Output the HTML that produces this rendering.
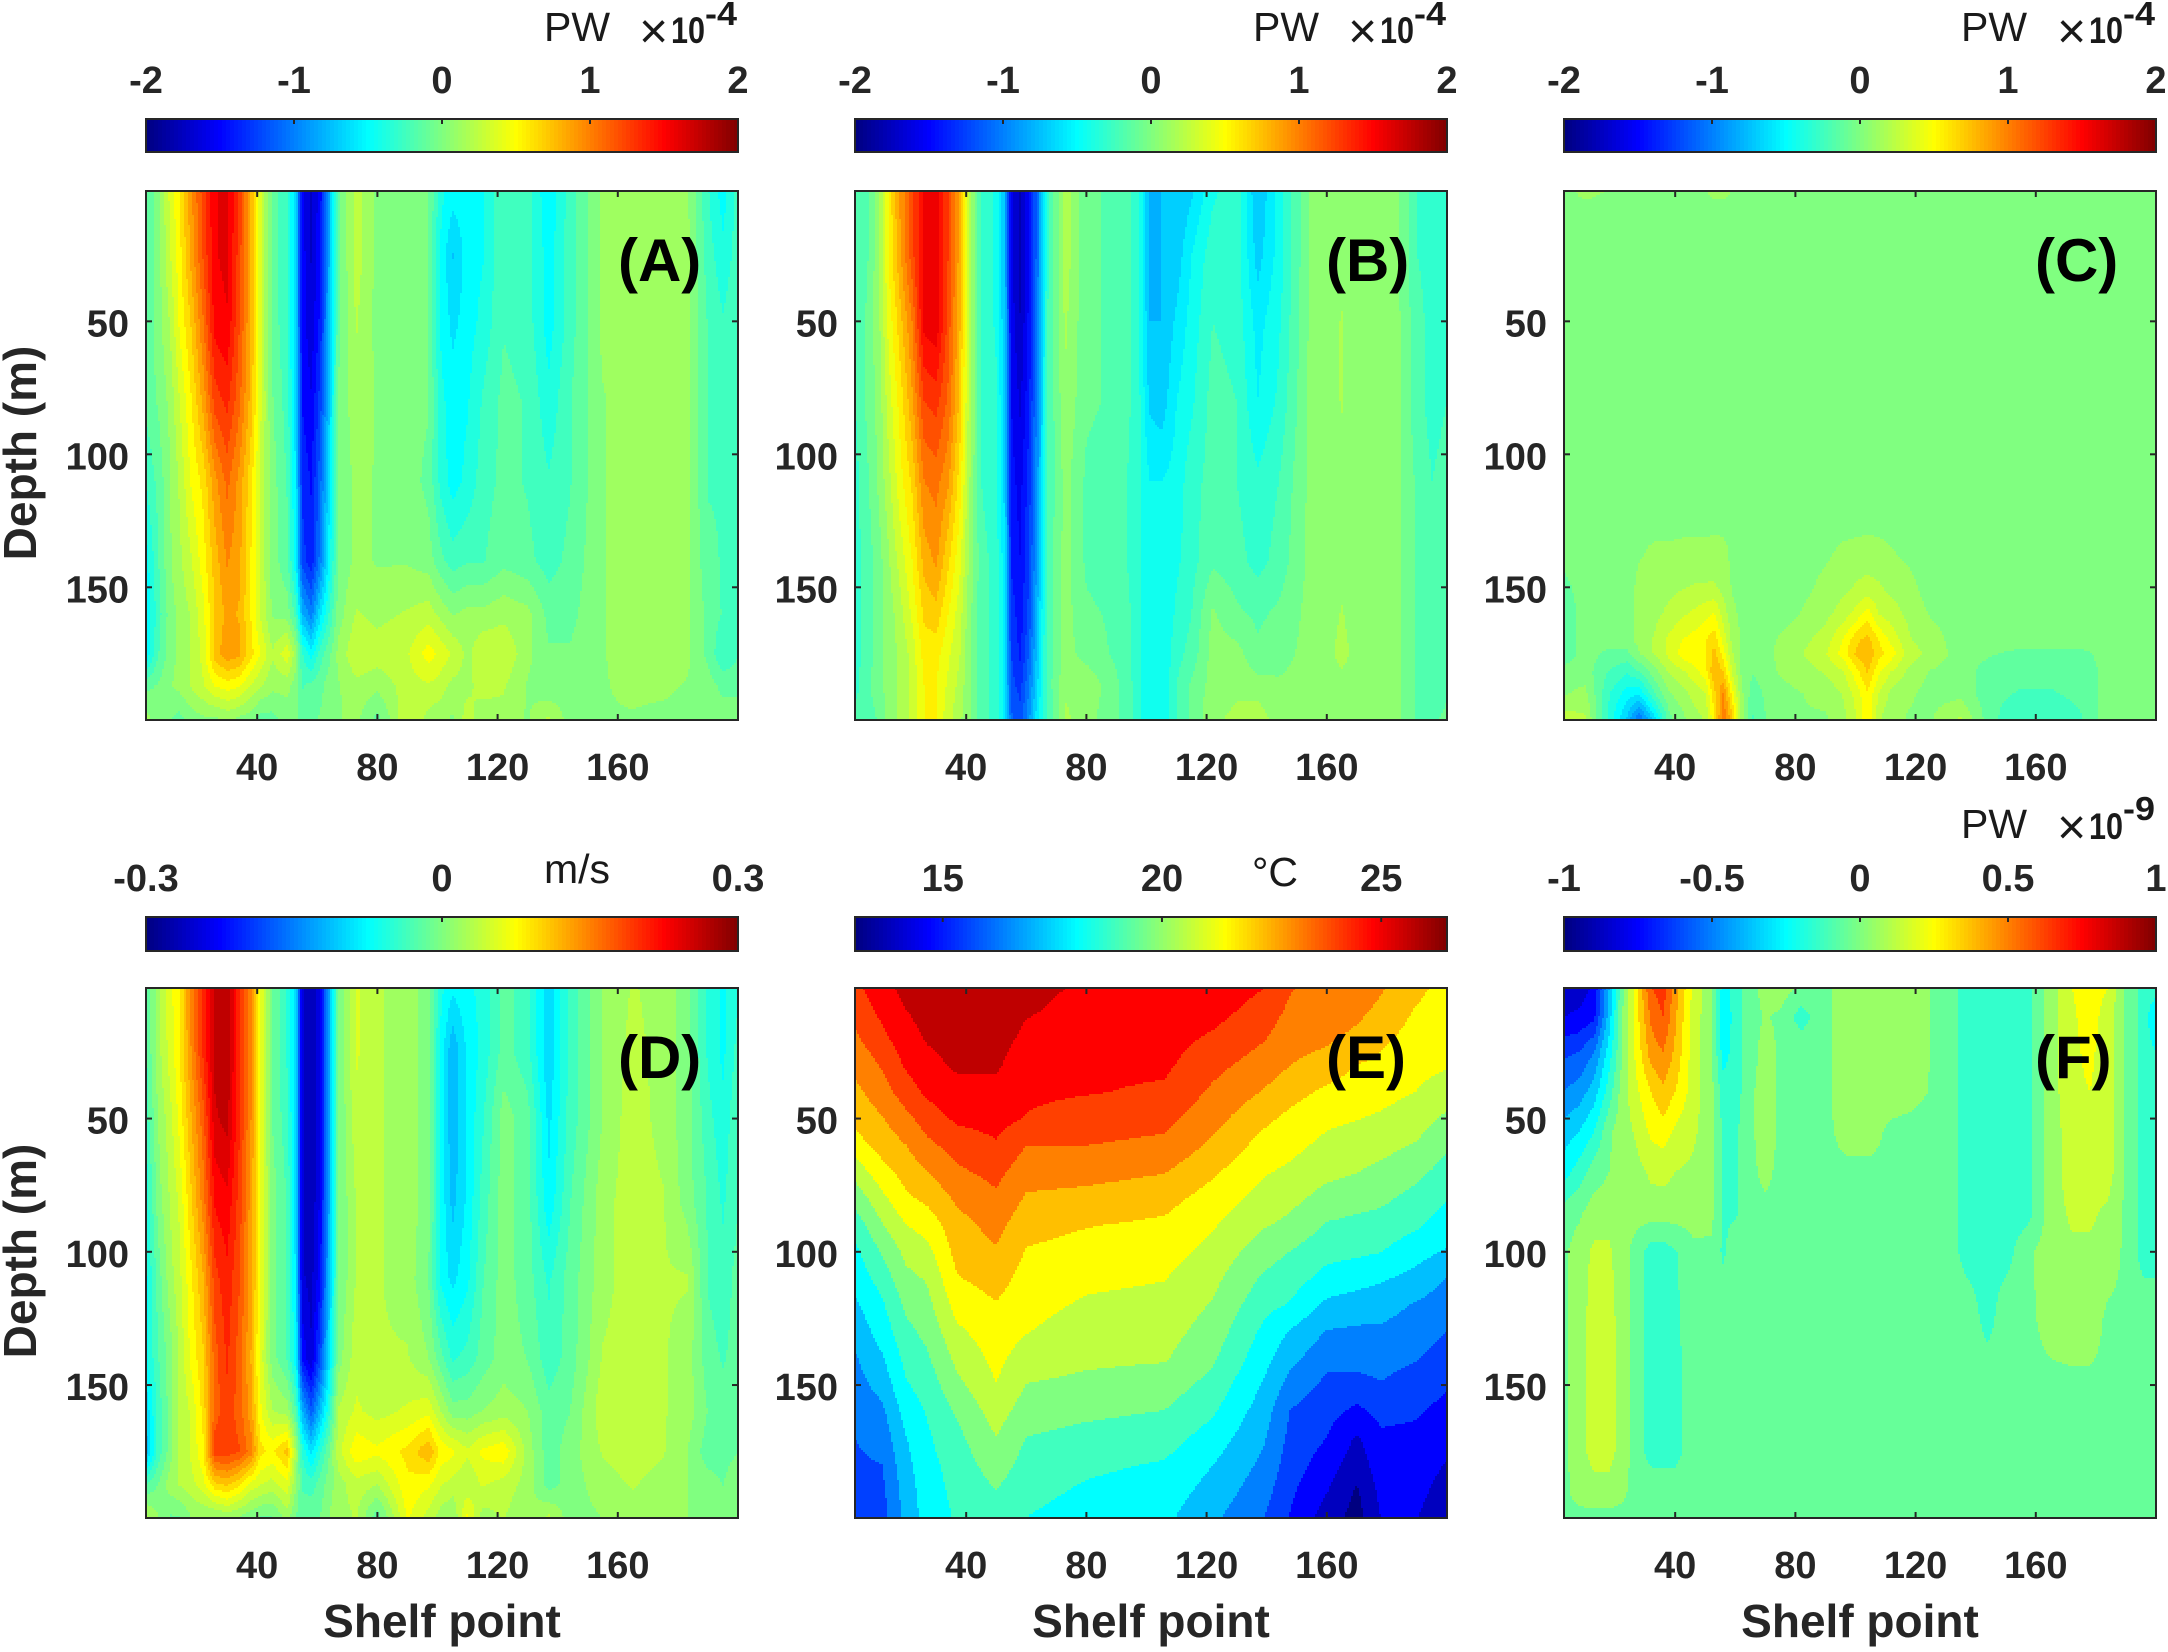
<!DOCTYPE html>
<html lang="en">
<head>
<meta charset="utf-8">
<title>Shelf point depth sections</title>
<style>
html,body{margin:0;padding:0;background:#fff;}
svg{display:block;font-family:"Liberation Sans",Arial,sans-serif;}
.tick-label{font-size:38px;font-weight:700;fill:#262626;}
.axis-title{font-size:46px;font-weight:700;fill:#262626;}
.panel-tag{font-size:60px;font-weight:700;fill:#000;}
.unit{font-size:41px;fill:#1a1a1a;}
.times{font-size:50px;fill:#1a1a1a;}
.exp10{font-size:37px;font-weight:700;fill:#1a1a1a;}
.expsup{font-size:33px;font-weight:700;fill:#1a1a1a;}
</style>
</head>
<body>
<svg id="figure" xmlns="http://www.w3.org/2000/svg" width="2168" height="1652" viewBox="0 0 2168 1652">
  <rect x="0" y="0" width="2168" height="1652" fill="#fff"/>
  <g id="plots"></g>

  <text class="unit" x="544" y="41">PW</text>
  <text class="times" x="639" y="48">×</text>
  <text class="exp10" x="671" y="43" textLength="34" lengthAdjust="spacingAndGlyphs">10</text>
  <text class="expsup" x="705" y="25" textLength="32" lengthAdjust="spacingAndGlyphs">-4</text>

  <text class="unit" x="1253" y="41">PW</text>
  <text class="times" x="1348" y="48">×</text>
  <text class="exp10" x="1380" y="43" textLength="34" lengthAdjust="spacingAndGlyphs">10</text>
  <text class="expsup" x="1414" y="25" textLength="32" lengthAdjust="spacingAndGlyphs">-4</text>

  <text class="unit" x="1961" y="41">PW</text>
  <text class="times" x="2057" y="48">×</text>
  <text class="exp10" x="2089" y="43" textLength="34" lengthAdjust="spacingAndGlyphs">10</text>
  <text class="expsup" x="2123" y="25" textLength="32" lengthAdjust="spacingAndGlyphs">-4</text>

  <text class="unit" x="544" y="883">m/s</text>
  <text class="unit" x="1252" y="886">°C</text>

  <text class="unit" x="1961" y="838">PW</text>
  <text class="times" x="2057" y="844">×</text>
  <text class="exp10" x="2089" y="839" textLength="34" lengthAdjust="spacingAndGlyphs">10</text>
  <text class="expsup" x="2123" y="820" textLength="32" lengthAdjust="spacingAndGlyphs">-9</text>

  <text class="panel-tag" x="618" y="281">(A)</text>
  <text class="panel-tag" x="1326" y="281">(B)</text>
  <text class="panel-tag" x="2035" y="281">(C)</text>
  <text class="panel-tag" x="618" y="1078">(D)</text>
  <text class="panel-tag" x="1326" y="1078">(E)</text>
  <text class="panel-tag" x="2035" y="1078">(F)</text>

  <text class="axis-title" transform="translate(36 453) rotate(-90)" text-anchor="middle">Depth (m)</text>
  <text class="axis-title" transform="translate(36 1251) rotate(-90)" text-anchor="middle">Depth (m)</text>
  <text class="axis-title" x="442" y="1637" text-anchor="middle">Shelf point</text>
  <text class="axis-title" x="1151" y="1637" text-anchor="middle">Shelf point</text>
  <text class="axis-title" x="1860" y="1637" text-anchor="middle">Shelf point</text>
</svg>
<script>
const shelfTicks = [40, 80, 120, 160];
const depthTicks = [50, 100, 150];
const barTicksPW = [-2, -1, 0, 1, 2];
const barTicksSpeed = [-0.3, 0, 0.3];
const barTicksTemp = [15, 20, 25];
const barTicksTiny = [-1, -0.5, 0, 0.5, 1];

const shelfPoints = [3,7,11,14,18,22,26,30,34,38,41,45,50,53,55,58,61,64,67,73,80,90,97,101,105,110,115,122,130,137,144,155,165,175,183,190,195,200];
const depthLevels = [1,25,50,80,110,140,160,175,187,199];

const valuesA = [
[-.2,0,.35,.55,.9,1.25,1.55,1.6,1.3,.8,.35,-.1,-.3,-.7,-1.55,-1.7,-1.5,-.8,-.1,.25,.02,0,-.05,-.4,-.5,-.5,-.45,-.2,-.25,-.55,-.25,.1,.15,.15,.1,-.3,-.5,-.25],
[-.15,0,.3,.5,.85,1.2,1.55,1.6,1.25,.8,.35,-.1,-.3,-.7,-1.5,-1.7,-1.45,-.8,-.1,.25,.02,0,-.05,-.45,-.7,-.5,-.45,-.2,-.25,-.5,-.25,.1,.15,.15,.1,-.25,-.4,-.25],
[-.15,0,.2,.45,.7,1.05,1.5,1.55,1.2,.8,.35,-.1,-.3,-.7,-1.5,-1.65,-1.4,-.75,-.1,.2,.02,0,-.05,-.45,-.6,-.5,-.4,-.2,-.25,-.5,-.25,.1,.15,.15,.1,-.2,-.3,-.2],
[-.15,-.05,.1,.3,.55,.85,1.25,1.35,1.1,.75,.35,-.05,-.25,-.65,-1.45,-1.55,-1.25,-.7,-.05,.15,.05,0,-.05,-.4,-.5,-.45,-.3,-.15,-.2,-.4,-.2,.05,.15,.15,.1,-.2,-.25,-.2],
[-.3,-.15,.05,.2,.45,.6,.9,1.1,.9,.6,.3,0,-.2,-.6,-1.35,-1.45,-1.1,-.6,-.05,.1,.05,0,-.1,-.35,-.5,-.4,-.25,-.15,-.2,-.3,-.2,.05,.15,.15,.1,-.2,-.2,-.2],
[-.5,-.2,.05,.15,.3,.5,.75,.95,.85,.55,.3,0,-.15,-.55,-1.25,-1.4,-1.0,-.5,-.05,.1,.05,.05,0,-.15,-.25,-.2,-.2,-.1,-.15,-.25,-.15,.05,.15,.15,.1,-.15,-.2,-.2],
[-.55,-.25,0,.1,.2,.4,.7,.85,.8,.55,.3,.05,0,-.25,-.8,-1.0,-.6,-.3,0,.2,.15,.2,.25,.15,.05,.1,.1,.15,.1,-.1,-.1,.05,.15,.15,.1,-.1,-.2,-.2],
[-.55,-.2,0,.1,.2,.35,.75,.9,.85,.6,.45,.2,.4,.1,-.3,-.5,-.25,-.1,.1,.3,.25,.3,.5,.4,.3,.15,.3,.3,.1,-.05,-.05,.05,.15,.15,.1,-.1,-.3,-.2],
[-.1,-.05,.05,.1,.2,.3,.45,.5,.45,.3,.2,.1,.1,0,-.2,-.15,-.1,0,.05,.15,.1,.25,.3,.25,.15,.15,.25,.2,.05,-.05,0,.05,.1,.1,.05,0,-.1,-.1],
[.1,0,-.05,-.1,0,.05,.05,.1,.05,0,-.1,-.1,0,-.05,-.1,-.1,-.05,0,.05,.1,-.1,.3,.15,.1,.05,.25,.1,.15,.05,.2,0,.05,.05,.02,0,0,0,0]
];

const valuesB = [
[-.25,-.15,.1,.5,.9,1.2,1.55,1.6,1.25,.8,.2,-.25,-.4,-.8,-1.6,-1.8,-1.5,-1,-.3,.2,-.1,-.15,-.3,-.8,-.75,-.75,-.65,-.4,-.3,-.75,-.45,.05,.05,.05,.05,-.25,-.3,-.25],
[-.25,-.15,.1,.5,.85,1.2,1.55,1.6,1.25,.8,.2,-.25,-.4,-.8,-1.6,-1.8,-1.5,-1,-.3,.2,-.1,-.15,-.3,-.8,-.75,-.7,-.5,-.3,-.3,-.68,-.45,.05,.1,.05,.05,-.25,-.3,-.25],
[-.25,-.1,.1,.4,.7,1.0,1.55,1.6,1.2,.75,.2,-.25,-.4,-.75,-1.55,-1.75,-1.45,-.95,-.25,.15,-.1,-.15,-.3,-.75,-.75,-.6,-.45,-.25,-.3,-.55,-.4,.05,.13,.05,.05,-.2,-.3,-.25],
[-.25,-.1,.05,.3,.55,.85,1.25,1.3,1.1,.7,.2,-.25,-.35,-.7,-1.5,-1.65,-1.4,-.9,-.25,.1,-.1,-.15,-.3,-.65,-.7,-.5,-.4,-.2,-.25,-.5,-.35,.05,.13,.05,.05,-.2,-.3,-.25],
[-.3,-.15,.03,.2,.45,.65,1.0,1.05,.9,.55,.15,-.25,-.35,-.7,-1.45,-1.55,-1.3,-.85,-.25,.05,-.15,-.2,-.3,-.5,-.5,-.45,-.3,-.2,-.25,-.35,-.25,.05,.1,.05,.05,-.15,-.25,-.2],
[-.3,-.2,-.05,.1,.3,.5,.8,.9,.65,.4,.1,-.2,-.3,-.6,-1.4,-1.5,-1.25,-.8,-.2,.05,-.15,-.2,-.3,-.5,-.5,-.4,-.3,-.15,-.2,-.3,-.2,.05,.1,.05,.05,-.15,-.2,-.2],
[-.3,-.2,-.05,.05,.2,.4,.65,.7,.5,.3,.05,-.2,-.3,-.6,-1.3,-1.45,-1.2,-.7,-.2,.05,-.1,-.15,-.3,-.5,-.5,-.35,-.25,.02,-.1,-.15,-.1,.05,.13,.05,.05,-.15,-.2,-.2],
[-.3,-.2,-.05,.05,.15,.3,.55,.55,.4,.25,.02,-.2,-.3,-.6,-1.25,-1.4,-1.1,-.65,-.2,.05,-.05,-.15,-.3,-.5,-.5,-.3,-.2,.05,.05,-.1,-.05,.05,.15,.05,.05,-.15,-.2,-.2],
[-.3,-.15,-.05,.05,.15,.3,.5,.5,.35,.2,.02,-.2,-.3,-.6,-1.2,-1.3,-1.0,-.6,-.2,.1,.1,-.1,-.3,-.5,-.5,-.25,-.1,.05,.1,.05,.02,.05,.1,.05,.05,-.15,-.2,-.15],
[-.2,-.2,-.1,.05,.15,.3,.5,.5,.3,.15,.02,-.2,-.3,-.6,-1.1,-1.2,-.9,-.5,-.25,.15,.05,-.1,-.3,-.5,-.5,-.25,-.1,.1,.15,.2,.05,.05,.05,.05,.05,-.15,-.15,-.1]
];

const valuesD = [
[-.03,.02,.06,.08,.15,.2,.26,.27,.2,.14,.07,-.01,-.05,-.1,-.25,-.27,-.24,-.12,-.01,.05,.03,.02,0,-.06,-.08,-.07,-.06,-.02,-.04,-.1,-.04,.01,.03,.02,0,-.05,-.07,-.05],
[-.03,.02,.055,.08,.14,.2,.26,.27,.2,.14,.07,-.01,-.05,-.1,-.25,-.27,-.24,-.12,-.01,.05,.03,.02,0,-.07,-.12,-.08,-.06,-.02,-.04,-.1,-.04,.01,.035,.02,0,-.05,-.07,-.04],
[-.04,.01,.04,.07,.12,.17,.25,.26,.2,.14,.07,-.01,-.04,-.1,-.25,-.27,-.24,-.12,-.01,.04,.03,.02,0,-.07,-.12,-.08,-.05,0,-.02,-.09,-.04,.01,.04,.02,0,-.04,-.06,-.03],
[-.06,0,.03,.05,.1,.15,.22,.23,.19,.13,.07,0,-.03,-.1,-.25,-.27,-.23,-.12,-.01,.03,.03,.02,0,-.07,-.11,-.08,-.04,0,-.02,-.08,-.03,.02,.04,.03,0,-.03,-.05,-.03],
[-.07,-.02,.02,.04,.08,.12,.19,.21,.18,.13,.07,0,-.03,-.09,-.25,-.26,-.22,-.11,-.01,.03,.03,.02,-.01,-.07,-.09,-.07,-.03,0,-.02,-.05,-.02,.02,.04,.03,.03,-.03,-.04,-.02],
[-.07,-.03,0,.03,.07,.1,.17,.2,.17,.12,.06,0,-.03,-.08,-.22,-.25,-.18,-.09,0,.04,.03,.03,.01,-.02,-.05,-.04,-.02,0,-.01,-.04,-.02,.03,.04,.03,.02,-.02,-.03,-.02],
[-.1,-.04,0,.03,.05,.09,.17,.19,.17,.13,.07,.03,.02,-.03,-.12,-.17,-.11,-.05,.03,.05,.04,.05,.06,.03,0,0,.01,.02,.01,-.02,-.01,.04,.04,.03,.02,-.01,-.02,-.01],
[-.115,-.04,0,.03,.05,.08,.19,.19,.18,.15,.09,.08,.11,.02,-.05,-.09,-.05,-.01,.04,.08,.07,.09,.12,.08,.07,.05,.07,.08,.02,-.02,0,.03,.04,.03,.01,-.02,-.02,-.01],
[-.03,-.01,.02,.03,.04,.06,.1,.11,.09,.06,.05,.04,.06,.01,-.03,-.04,-.02,0,.02,.04,.03,.08,.07,.05,.04,.03,.05,.04,.02,-.02,0,.02,.03,.02,.01,0,-.01,.01],
[.03,.01,-.01,-.01,.01,.01,.01,.02,.01,0,-.01,-.01,.02,-.01,-.02,-.01,-.01,.01,.02,.03,-.02,.07,.04,.02,.01,.07,.02,.03,.01,.03,0,.01,.02,.01,.01,0,0,.01]
];

const shelfPointsC = [3,10,18,24,28,33,38,43,47,50,53,56,59,62,66,72,80,90,96,100,104,108,112,118,125,135,145,155,165,175,185,200];
const depthLevelsC = [1,8,125,135,150,160,170,175,182,190,199];
const valuesC = [
[0,.12,.05,0,0,0,0,0,0,.05,.12,.12,.05,0,0,0,0,0,0,0,0,0,0,0,0,0,0,0,0,0,0,0],
[0,0,0,0,0,0,0,0,0,0,0,0,0,0,0,0,0,0,0,0,0,0,0,0,0,0,0,0,0,0,0,0],
[0,0,0,0,0,0,0,0,0,0,0,0,0,0,0,0,0,0,0,0,0,0,0,0,0,0,0,0,0,0,0,0],
[0,0,0,0,.04,.08,.08,.1,.1,.1,.12,.1,.02,0,0,0,0,.03,.08,.1,.12,.1,.06,.02,0,0,0,0,0,0,0,0],
[-.1,0,0,0,.1,.12,.15,.18,.2,.2,.2,.15,.05,0,0,0,0,.1,.15,.2,.22,.2,.15,.1,0,0,0,0,0,0,0,0],
[-.15,0,0,0,.1,.15,.22,.3,.35,.4,.45,.25,.1,.03,0,0,.05,.15,.25,.35,.5,.3,.25,.15,.05,0,0,0,0,0,0,0],
[-.15,0,0,.02,.1,.2,.35,.45,.5,.55,.65,.4,.15,.05,.02,.05,.12,.25,.45,.65,.75,.55,.4,.2,.12,0,0,0,0,0,0,0],
[-.15,0,-.1,-.1,.05,.2,.35,.5,.55,.55,.75,.5,.2,.05,.02,.05,.15,.3,.5,.7,.8,.6,.5,.25,.15,0,-.05,-.1,-.1,-.1,0,0],
[0,0,-.2,-.3,-.2,0,.2,.3,.4,.5,.8,.7,.3,.05,-.05,.05,.1,.2,.3,.5,.7,.45,.3,.15,.05,0,-.13,-.15,-.15,-.15,0,0],
[.05,.1,-.3,-.5,-.55,-.2,.05,.15,.25,.3,.65,.95,.5,.1,-.15,.02,.05,.1,.2,.35,.55,.3,.15,.08,.02,.02,-.15,-.2,-.2,-.15,0,0],
[.25,.2,-.35,-.7,-1.05,-.6,-.1,.05,.15,.2,.55,1.05,.7,.15,-.2,0,.05,.05,.15,.3,.55,.2,.1,.05,.05,.2,-.15,-.3,-.3,-.2,.05,.05]
];

const shelfPointsE = [3,12,20,27,37,50,60,80,106,122,139,148,160,170,178,190,200];
const depthLevelsE = [1,10,20,30,40,50,60,70,80,90,100,110,120,130,140,150,160,170,180,190,199];
/* temperature profile per shelf point (one line per shelf point, top to bottom) */
const temperatureProfiles = [
[24.2,23.8,23.4,22.9,22.5,22.1,21.5,20.5,19.6,18.85,18.3,17.9,17.5,17.1,16.7,16.45,16.2,15.95,15.8,15.7,15.6],
[24.9,24.6,24.15,23.65,23.15,22.65,22.2,21.55,20.8,20.1,19.4,18.85,18.35,18,17.55,17.1,16.6,16.3,15.95,15.75,15.6],
[25.5,25.2,24.9,24.5,24,23.3,22.7,22.2,21.7,21,20.4,19.95,19.5,19.1,18.75,18.4,18,17.6,17.4,17.2,17.1],
[25.8,25.55,25.3,25,24.55,23.95,23.35,22.7,22.05,21.35,20.75,20.25,19.9,19.55,19.2,18.85,18.55,18.35,18.2,18.1,18],
[25.9,25.75,25.55,25.35,25,24.55,23.9,23.4,22.85,22.4,22.15,21.8,21.35,20.85,20.4,19.95,19.45,19.1,18.85,18.7,18.6],
[25.9,25.75,25.55,25.35,25,24.7,24.3,23.8,23.4,23,22.6,22.2,21.8,21.5,21.25,21,20.55,20.15,19.75,19.3,19],
[25.4,25.3,25.05,24.75,24.55,24.35,23.55,23.05,22.6,22.15,21.8,21.55,21.3,21.05,20.6,20.15,19.75,19.3,19,18.75,18.5],
[25.15,25,24.8,24.6,24.45,24,23.55,23,22.45,21.9,21.55,21.2,20.9,20.6,20.35,19.95,19.5,19.05,18.65,18.35,18.1],
[25.1,24.95,24.75,24.55,24.25,23.8,23.35,22.75,22.15,21.7,21.35,21.05,20.75,20.5,20.25,19.75,19.3,18.85,18.4,18.1,17.85],
[25,24.7,24.25,23.8,23.4,23,22.55,22,21.5,21.1,20.75,20.4,20.1,19.8,19.45,19.05,18.6,18.1,17.65,17.3,17],
[24.4,24,23.6,23.15,22.65,22.05,21.55,21.1,20.7,20.25,19.7,19.2,18.75,18.3,17.95,17.55,17.2,16.9,16.6,16.3,16],
[23.6,23.35,23.05,22.7,22.15,21.65,21.25,20.85,20.4,19.95,19.3,18.85,18.4,17.55,17.05,16.45,15.9,15.7,15.5,15.25,15.05],
[23.3,23.1,22.85,22.35,21.7,21.2,20.8,20.4,19.85,19.25,18.75,18.2,17.45,16.75,16.2,15.75,15.4,15.1,14.7,14.3,13.9],
[23.2,22.9,22.5,21.85,21.4,21.05,20.6,20.2,19.65,19.1,18.65,17.95,17.25,16.65,16.25,15.65,14.9,14.15,13.75,13.3,13.1],
[22.8,22.5,22.05,21.65,21.3,20.9,20.45,19.95,19.5,19,18.5,17.75,17.15,16.65,16.3,15.9,15.35,14.95,14.75,14.5,14.3],
[22.1,21.75,21.5,21.25,21,20.55,20.1,19.55,19.05,18.6,17.95,17.35,16.7,16.35,16,15.5,15.2,14.9,14.7,14.5,14.3],
[21.5,21.35,21.2,21.1,20.6,20,19.45,19,18.55,18.05,17.55,16.75,16.35,15.95,15.55,15.2,14.85,14.55,14.2,13.9,13.7]
];

const shelfPointsF = [3,8,13,18,22,26,32,36,40,46,52,56,60,65,70,75,82,90,97,105,112,130,137,144,150,157,165,172,178,184,190,196,200];
const depthLevelsF = [1,12,25,40,55,70,85,100,125,150,175,190,199];
const valuesF = [
[-.85,-.85,-.78,-.4,-.05,.2,.6,.65,.45,.18,.03,-.25,-.15,-.05,.05,.05,-.02,-.02,.05,.05,.05,-.02,-.15,-.15,-.15,-.15,.05,.2,.25,.2,-.02,-.15,-.15],
[-.8,-.78,-.72,-.35,-.03,.2,.52,.6,.42,.15,.03,-.3,-.15,-.05,.01,-.02,-.15,-.02,.05,.05,.05,-.02,-.15,-.15,-.15,-.15,.05,.18,.25,.15,-.02,-.15,-.3],
[-.62,-.6,-.5,-.25,-.02,.18,.45,.5,.38,.15,.03,-.25,-.15,-.05,.05,-.02,-.02,-.02,.05,.05,.05,-.02,-.15,-.15,-.15,-.15,.05,.18,.22,.15,-.02,-.15,-.2],
[-.5,-.45,-.35,-.15,.03,.15,.3,.38,.3,.15,.03,-.15,-.15,-.02,.05,-.02,-.02,-.02,.05,.05,.04,-.02,-.15,-.15,-.15,-.15,.05,.18,.2,.15,-.02,-.15,-.15],
[-.35,-.3,-.2,-.02,.05,.1,.22,.25,.18,.12,.03,-.12,-.12,-.02,.05,-.02,-.02,-.02,.03,.03,-.02,-.02,-.15,-.15,-.15,-.15,.05,.15,.15,.15,-.02,-.15,-.15],
[-.25,-.15,-.05,0,.05,.05,.12,.13,.1,.08,.03,-.12,-.12,-.02,.02,-.02,-.02,-.02,-.02,-.02,-.02,-.02,-.15,-.15,-.15,-.15,.05,.15,.15,.15,-.02,-.15,-.15],
[-.05,-.02,.05,.05,.01,.04,.05,.05,.05,.04,.03,-.12,-.12,-.02,-.02,-.02,-.02,-.02,-.02,-.02,-.02,-.02,-.15,-.15,-.15,-.15,.05,.12,.12,.08,-.02,-.15,-.15],
[-.02,.05,.12,.12,.04,-.02,-.15,-.15,-.11,-.02,-.02,-.12,-.02,-.02,-.02,-.02,-.02,-.02,-.02,-.02,-.02,-.02,-.15,-.15,-.15,-.02,.05,.08,.08,.05,-.02,-.15,-.15],
[-.02,.05,.15,.15,.05,-.02,-.15,-.2,-.13,-.02,-.02,-.02,-.02,-.02,-.02,-.02,-.02,-.02,-.02,-.02,-.02,-.02,-.02,-.15,-.02,-.02,.03,.05,.05,-.02,-.02,-.02,-.02],
[-.02,.05,.15,.15,.05,-.02,-.15,-.15,-.15,-.02,-.02,-.02,-.02,-.02,-.02,-.02,-.02,-.02,-.02,-.02,-.02,-.02,-.02,-.02,-.02,-.02,-.02,-.02,-.02,-.02,-.02,-.02,-.02],
[-.02,.05,.15,.15,.05,-.02,-.15,-.15,-.15,-.02,-.02,-.02,-.02,-.02,-.02,-.02,-.02,-.02,-.02,-.02,-.02,-.02,-.02,-.02,-.02,-.02,-.02,-.02,-.02,-.02,-.02,-.02,-.02],
[-.02,.03,.05,.05,.02,-.02,-.02,-.02,-.02,-.02,-.02,-.02,-.02,-.02,-.02,-.02,-.02,-.02,-.02,-.02,-.02,-.02,-.02,-.02,-.02,-.02,-.02,-.02,-.02,-.02,-.02,-.02,-.02],
[-.02,-.02,-.02,-.02,-.02,-.02,-.02,-.02,-.02,-.02,-.02,-.02,-.02,-.02,-.02,-.02,-.02,-.02,-.02,-.02,-.02,-.02,-.02,-.02,-.02,-.02,-.02,-.02,-.02,-.02,-.02,-.02,-.02]
];

const SVGNS = 'http://www.w3.org/2000/svg';
const INK = '#262626';
const plotsRoot = document.getElementById('plots');

function mk(tag, attrs, parent) {
  const el = document.createElementNS(SVGNS, tag);
  for (const k in attrs) el.setAttribute(k, attrs[k]);
  parent.appendChild(el);
  return el;
}
function clamp01(v) { return Math.max(0, Math.min(1, v)); }
function jet(t) {
  const r = clamp01(Math.min(4 * t - 1.5, -4 * t + 4.5));
  const g = clamp01(Math.min(4 * t - 0.5, -4 * t + 3.5));
  const b = clamp01(Math.min(4 * t + 0.5, -4 * t + 2.5));
  return 'rgb(' + Math.round(r * 255) + ',' + Math.round(g * 255) + ',' + Math.round(b * 255) + ')';
}
function bracket(arr, v) {
  let i = 0;
  while (i < arr.length - 2 && arr[i + 1] < v) i++;
  return i;
}
function sampleGrid(xs, ds, vals, x, d) {
  const i = bracket(xs, x), j = bracket(ds, d);
  const fx = clamp01((x - xs[i]) / (xs[i + 1] - xs[i]));
  const fy = clamp01((d - ds[j]) / (ds[j + 1] - ds[j]));
  const a = vals[j][i] * (1 - fx) + vals[j][i + 1] * fx;
  const b = vals[j + 1][i] * (1 - fx) + vals[j + 1][i + 1] * fx;
  return a * (1 - fy) + b * fy;
}
function transpose(profiles) {
  return profiles[0].map(function (_, j) { return profiles.map(function (p) { return p[j]; }); });
}

const COL_LEFT = [146, 855, 1564];
const PANEL_W = 592;
const panels = [
  { key: 'a', col: 0, row: 0, xs: shelfPoints,  ds: depthLevels,  vals: valuesA, min: -2,  max: 2,    bins: 32, off: 0.5, ticks: barTicksPW },
  { key: 'b', col: 1, row: 0, xs: shelfPoints,  ds: depthLevels,  vals: valuesB, min: -2,  max: 2,    bins: 32, off: 0,   ticks: barTicksPW },
  { key: 'c', col: 2, row: 0, xs: shelfPointsC, ds: depthLevelsC, vals: valuesC, min: -2,  max: 2,    bins: 32, off: 0.5, ticks: barTicksPW },
  { key: 'd', col: 0, row: 1, xs: shelfPoints,  ds: depthLevels,  vals: valuesD, min: -0.3, max: 0.3, bins: 32, off: 0.5, ticks: barTicksSpeed },
  { key: 'e', col: 1, row: 1, xs: shelfPointsE, ds: depthLevelsE, vals: transpose(temperatureProfiles), min: 13, max: 26.5, bins: 16, off: 0.5, ticks: barTicksTemp },
  { key: 'f', col: 2, row: 1, xs: shelfPointsF, ds: depthLevelsF, vals: valuesF, min: -1,  max: 1,    bins: 20, off: 0,   ticks: barTicksTiny }
];
const ROW_GEOM = [
  { top: 191, bottom: 720, barTop: 119, barBottom: 152, barLabelY: 93 },
  { top: 988, bottom: 1518, barTop: 917, barBottom: 951, barLabelY: 891 }
];

panels.forEach(function (p) {
  const left = COL_LEFT[p.col];
  const geom = ROW_GEOM[p.row];
  const top = geom.top, bottom = geom.bottom;
  const xScale = function (x) { return left + (x - 3) * PANEL_W / 197; };
  const yScale = function (d) { return top + (d - 1) * (bottom - top) / 198.9; };
  const xInv = function (px) { return 3 + (px - left) * 197 / PANEL_W; };
  const yInv = function (py) { return 1 + (py - top) * 198.9 / (bottom - top); };
  const toT = function (v) { return (v - p.min) / (p.max - p.min); };
  const binT = function (t) {
    const k = Math.floor(t * p.bins - p.off);
    return clamp01((k + 0.5 + p.off) / p.bins);
  };

  const group = mk('g', {}, plotsRoot);
  
  

  /* heatmap */
  const heat = mk('g', { 'shape-rendering': 'crispEdges' }, group);
  
  
  const STEP = 2;
  for (let py = top; py < bottom; py += STEP) {
    const d = yInv(py + STEP / 2);
    let runStart = left, runT = null;
    for (let px = left; px <= left + PANEL_W; px += STEP) {
      const atEnd = px >= left + PANEL_W;
      const t = atEnd ? null : binT(toT(sampleGrid(p.xs, p.ds, p.vals, xInv(px + STEP / 2), d)));
      if (t !== runT) {
        if (runT !== null) {
          const cell = mk('rect', { x: runStart, y: py, width: px - runStart, height: Math.min(STEP, bottom - py), fill: jet(runT) }, heat);
          
          
        }
        runStart = px;
        runT = t;
      }
    }
  }

  /* plot frame */
  const frame = mk('rect', { x: left, y: top, width: PANEL_W, height: bottom - top, fill: 'none', stroke: INK, 'stroke-width': 2 }, group);
  
  

  /* x ticks */
  shelfTicks.forEach(function (v) {
    const x = xScale(v);
    const t1 = mk('line', { x1: x, x2: x, y1: top, y2: top + 6, stroke: INK, 'stroke-width': 2 }, group);
    
    
    const t2 = mk('line', { x1: x, x2: x, y1: bottom, y2: bottom - 6, stroke: INK, 'stroke-width': 2 }, group);
    
    
    const lab = mk('text', { x: x, y: bottom + 60, 'text-anchor': 'middle', class: 'tick-label' }, group);
    
    
    lab.textContent = String(v);
  });

  /* y ticks */
  depthTicks.forEach(function (v) {
    const y = yScale(v);
    const t1 = mk('line', { x1: left, x2: left + 6, y1: y, y2: y, stroke: INK, 'stroke-width': 2 }, group);
    
    
    const t2 = mk('line', { x1: left + PANEL_W, x2: left + PANEL_W - 6, y1: y, y2: y, stroke: INK, 'stroke-width': 2 }, group);
    
    
    const lab = mk('text', { x: left - 17, y: y + 15, 'text-anchor': 'end', class: 'tick-label' }, group);
    
    
    lab.textContent = String(v);
  });

  /* colorbar */
  const bar = mk('g', {}, group);
  
  
  const barRamp = mk('g', { 'shape-rendering': 'crispEdges' }, bar);
  
  
  const SLICES = 148;
  for (let i = 0; i < SLICES; i++) {
    const sx = left + i * PANEL_W / SLICES;
    const slice = mk('rect', { x: sx, y: geom.barTop, width: PANEL_W / SLICES + 0.6, height: geom.barBottom - geom.barTop, fill: jet((i + 0.5) / SLICES) }, barRamp);
    
    
  }
  const barFrame = mk('rect', { x: left, y: geom.barTop, width: PANEL_W, height: geom.barBottom - geom.barTop, fill: 'none', stroke: INK, 'stroke-width': 2 }, bar);
  
  
  p.ticks.forEach(function (v) {
    const x = left + (v - p.min) / (p.max - p.min) * PANEL_W;
    const tick = mk('line', { x1: x, x2: x, y1: geom.barTop, y2: geom.barTop + 5, stroke: INK, 'stroke-width': 2 }, bar);
    
    
    const lab = mk('text', { x: x, y: geom.barLabelY, 'text-anchor': 'middle', class: 'tick-label' }, bar);
    
    
    lab.textContent = String(v);
  });
});
</script>
</body>
</html>
